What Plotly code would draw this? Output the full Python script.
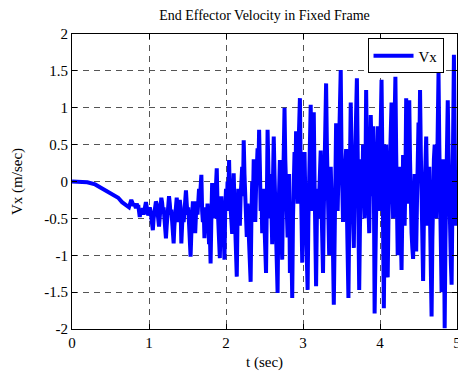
import plotly.graph_objects as go

# Smooth start of the signal (explicit times)
t_early = [0.00, 0.10, 0.20, 0.30, 0.40, 0.50, 0.55, 0.60, 0.65, 0.70, 0.74, 0.77]
v_early = [0.00, 0.00, -0.01, -0.04, -0.10, -0.16, -0.20, -0.22, -0.28, -0.32, -0.35, -0.25]

# Dense oscillating part, sampled every 0.01 s starting at 0.80 s (rows of 0.1 s)
dense_start = 0.80
dense_step = 0.01
v_dense = [
    -0.33, -0.30, -0.36, -0.36, -0.30, -0.34, -0.32, -0.42, -0.48, -0.40,   # 0.80
    -0.38, -0.42, -0.36, -0.45, -0.40, -0.32, -0.28, -0.34, -0.40, -0.46,   # 0.90
    -0.42, -0.35, -0.40, -0.52, -0.58, -0.66, -0.50, -0.40, -0.32, -0.27,   # 1.00
    -0.30, -0.45, -0.52, -0.61, -0.48, -0.30, -0.22, -0.28, -0.40, -0.35,   # 1.10
    -0.50, -0.62, -0.77, -0.60, -0.40, -0.25, -0.20, -0.30, -0.45, -0.38,   # 1.20
    -0.55, -0.70, -0.84, -0.60, -0.40, -0.25, -0.22, -0.35, -0.55, -0.40,   # 1.30
    -0.25, -0.35, -0.84, -0.60, -0.40, -0.55, -0.30, -0.20, -0.12, -0.30,   # 1.40
    -0.45, -0.35, -0.60, -0.85, -1.02, -0.70, -0.45, -0.27, -0.40, -0.55,   # 1.50
    -0.70, -0.45, -0.27, -0.45, -0.30, -0.10, -0.25, -0.05, 0.09, -0.40,    # 1.60
    -0.55, -0.35, -0.77, -0.50, -0.35, -0.60, -0.30, -0.55, -0.85, -0.70,   # 1.70
    -1.11, -0.50, -0.02, -0.40, -0.20, -0.50, -0.15, 0.05, 0.18, -0.30,     # 1.80
    -0.65, -0.85, -1.04, -0.50, -0.20, -0.45, -0.30, -0.70, -1.06, -0.40,   # 1.90
    -0.10, -0.40, 0.00, -0.30, 0.29, -0.20, -0.45, -0.60, -0.71, -0.20,     # 2.00
    0.11, -0.30, -0.70, -1.00, -1.29, -0.50, -0.10, -0.40, -0.60, -0.20,    # 2.10
    0.00, 0.20, -0.20, 0.56, 0.10, -0.30, -0.50, -0.75, -0.30, -0.60,       # 2.20
    -0.90, -1.10, -1.36, -0.50, 0.00, -0.30, 0.30, -0.20, -0.55, -0.10,     # 2.30
    0.20, 0.45, 0.10, 0.70, 0.20, -0.40, -0.10, -0.70, -0.30, -0.10,        # 2.40
    -0.60, -0.90, -1.24, -0.30, 0.70, 0.20, -0.50, -0.10, 0.10, -0.40,      # 2.50
    -0.85, 0.00, 0.61, 0.10, -0.30, -0.60, -1.00, -1.51, -0.50, 0.00,       # 2.60
    0.29, -0.40, -0.70, -1.06, -0.20, 0.40, 1.00, 0.30, -0.20, -0.50,       # 2.70
    -0.76, -0.20, 0.10, -1.24, -0.40, -0.90, -1.58, -0.50, 0.20, 0.40,      # 2.80
    -0.20, 0.68, 0.10, -0.30, 0.40, 0.80, 1.13, 0.20, -0.50, -1.10,         # 2.90
    -0.40, 0.00, 0.40, -0.20, -0.70, -1.00, -1.47, -0.50, 0.30, 0.70,       # 3.00
    1.04, 0.20, -0.40, 0.30, 0.94, 0.00, -0.70, -1.42, -0.50, -0.10,        # 3.10
    -0.50, 0.00, 0.20, 0.42, -0.30, -0.80, -1.24, -0.40, 0.40, 0.90,        # 3.20
    1.33, 0.50, -0.20, -0.60, -1.00, -0.30, 0.20, -0.20, -0.50, -1.00,      # 3.30
    -1.67, -0.60, 0.30, 0.79, 0.20, -0.40, 0.10, 0.50, 1.00, 1.51,          # 3.40
    0.40, -0.30, -0.55, 0.00, 0.30, 0.20, 0.44, -0.40, -0.90, -1.58,        # 3.50
    -0.60, 0.30, 1.07, 0.40, -0.20, -0.60, -0.90, 0.00, 0.40, 0.90,         # 3.60
    1.40, 0.40, -0.30, -1.47, -0.60, 0.00, 0.30, -0.20, 0.50, 0.10,         # 3.70
    -0.50, -0.10, 1.24, 0.40, -0.10, -0.40, -0.70, 0.00, 0.90, 0.40,        # 3.80
    -0.20, 0.75, 0.00, -1.79, -0.80, -0.20, 0.30, 0.75, 0.20, -0.40,        # 3.90
    0.20, 0.80, 1.38, 0.40, -0.30, -1.72, -0.60, 0.20, 0.50, -0.30,         # 4.00
    -1.30, -0.50, 0.00, 0.50, 0.80, 1.07, 0.30, -0.50, 0.30, 0.80,          # 4.10
    1.42, 0.40, -0.40, -1.00, -0.40, 0.20, -0.20, -0.70, -1.20, -0.40,      # 4.20
    0.36, -0.10, -0.60, 0.00, 1.13, 0.40, -0.30, 0.40, 1.10, 0.30,          # 4.30
    -0.50, -0.70, -0.90, -1.05, -0.40, 0.10, -0.40, -0.95, -0.30, 0.40,     # 4.40
    0.80, 0.30, 1.24, 0.40, -0.40, -0.90, -1.35, -0.50, 0.00, 0.30,         # 4.50
    0.61, 0.00, -0.60, -0.20, 0.20, -0.50, -1.20, -1.83, -0.80, 0.00,       # 4.60
    0.30, 0.50, 0.00, -0.50, 0.00, 0.60, 1.47, 0.50, -0.30, -0.90,          # 4.70
    -1.50, -0.40, 0.30, -0.50, -1.99, -0.80, 0.20, 0.70, 1.10, 0.40,        # 4.80
    -0.40, -0.90, -1.10, -1.40, -0.50, 0.40, 1.72, 0.60, -0.60, -0.20,      # 4.90
    -0.10,                                                                  # 5.00
]

x_ticks = [0, 1, 2, 3, 4, 5]
y_ticks = [-2, -1.5, -1, -0.5, 0, 0.5, 1, 1.5, 2]
y_tick_text = ["-2", "-1.5", "-1", "-0.5", "0", "0.5", "1", "1.5", "2"]

t_dense = [round(dense_start + i * dense_step, 2) for i in range(len(v_dense))]
t_sec = t_early + t_dense
vx = v_early + v_dense

FONT = "Liberation Serif, Times New Roman, serif"

fig = go.Figure()
fig.add_trace(go.Scatter(x=t_sec, y=vx, mode="lines", name="Vx",
                         line=dict(color="#0000FF", width=4)))

axis_common = dict(showline=True, linecolor="black", linewidth=1, mirror="ticks",
                   ticks="inside", ticklen=5, tickcolor="black",
                   showgrid=True, gridcolor="#555555", gridwidth=1, griddash="6px,5px",
                   zeroline=False, ticklabeloverflow="allow", automargin=False,
                   tickfont=dict(family=FONT, size=15, color="black"))

fig.update_layout(
    width=458, height=374,
    margin=dict(l=72, r=1, t=34, b=45, pad=0),
    paper_bgcolor="white", plot_bgcolor="white",
    title=dict(text="End Effector Velocity in Fixed Frame", x=0.5, xanchor="center",
               xref="paper", y=1 - 15 / 374, yanchor="middle",
               font=dict(family=FONT, size=14, color="black")),
    xaxis=dict(range=[0, 5], tickvals=x_ticks,
               title=dict(text="t (sec)", font=dict(family=FONT, size=15, color="black"), standoff=6),
               **axis_common),
    yaxis=dict(range=[-2, 2], tickvals=y_ticks, ticktext=y_tick_text,
               title=dict(text="Vx (m/sec)", font=dict(family=FONT, size=15, color="black"), standoff=18),
               **axis_common),
    legend=dict(x=0.965, y=0.985, xanchor="right", yanchor="top", bgcolor="white",
                bordercolor="black", borderwidth=1, tracegroupgap=0,
                font=dict(family=FONT, size=15, color="black"), itemwidth=40),
    showlegend=True,
)

fig.write_html("out.html")
